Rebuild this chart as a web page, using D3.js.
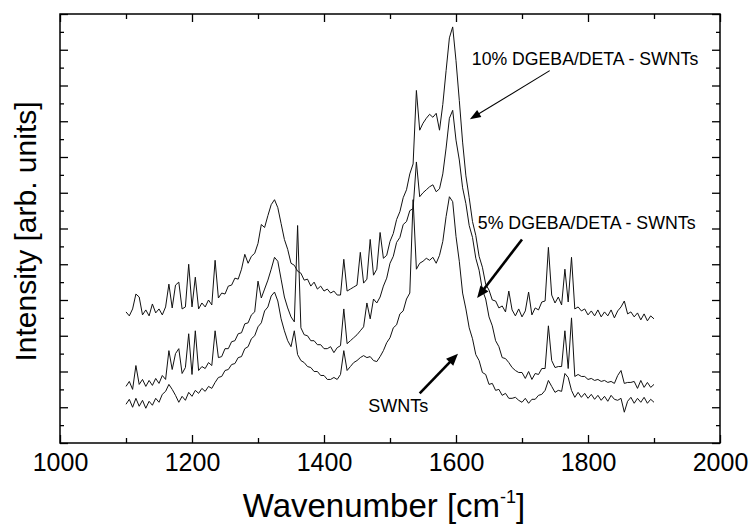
<!DOCTYPE html>
<html>
<head>
<meta charset="utf-8">
<script src="https://cdn.jsdelivr.net/npm/d3@7"></script>
<style>
  body { margin: 0; background: #fff; }
  svg { display: block; }
  text { font-family: "Liberation Sans", Arial, Helvetica, sans-serif; fill: #000; }
</style>
</head>
<body>
<svg id="chart" width="749" height="524"></svg>
<script>
// Raman spectra, sampled every 5 cm^-1 from 1100 to 1900 cm^-1
const waveStart = 1100, waveEnd = 1900, waveStep = 5;
const wavenumber = d3.range(waveStart, waveEnd + 1, waveStep);

// Intensity [arb. units], offset spectra
const dgeba10 = [
  132,128,135,150,147,129,134,128,140,131,135,129,137,160,136,159,162,135,137,180,
  137,167,135,141,137,144,139,184,146,151,150,158,159,166,165,175,190,181,188,191,
  201,220,217,229,240,245,237,221,205,195,181,179,173,171,164,165,158,162,155,158,
  153,155,151,153,149,149,185,153,155,157,159,192,161,165,205,169,175,212,186,189,
  203,211,225,233,247,255,271,281,355,315,322,327,331,328,332,315,341,375,408,419,
  385,345,303,269,247,223,209,188,177,160,154,144,143,136,138,132,153,134,128,135,
  127,133,152,129,136,134,142,143,197,149,141,147,139,175,142,187,135,137,133,135,
  129,133,128,134,127,132,128,134,126,133,137,143,130,132,127,131,124,130,123,128,
  125
];
const dgeba5 = [
  57,62,54,78,59,64,57,63,58,65,60,68,64,93,74,90,95,70,76,110,
  69,113,73,77,75,81,78,113,86,87,95,95,102,103,110,111,120,121,129,132,
  163,146,155,164,175,187,183,165,147,136,127,122,219,116,109,108,103,103,99,99,
  95,95,97,91,96,98,135,100,103,106,109,113,117,141,125,145,141,147,158,166,
  181,188,202,207,220,223,234,236,283,248,252,255,258,260,253,256,271,297,327,335,
  305,285,257,241,219,207,186,174,154,145,127,118,103,97,86,85,81,76,73,71,
  71,65,72,64,70,69,75,75,118,83,76,77,77,113,75,126,67,69,67,67,
  64,65,63,64,62,63,61,62,60,68,73,60,61,61,62,55,63,56,61,56,
  59
];
const swnt = [
  39,44,36,45,37,43,35,42,38,45,41,49,52,59,54,48,41,47,43,51,
  47,53,50,55,52,57,55,61,66,67,73,74,79,80,86,87,95,97,105,108,
  117,121,133,137,148,152,143,125,113,103,97,113,89,83,81,77,76,72,72,68,
  68,64,64,66,64,69,93,73,77,81,83,86,88,86,87,83,82,87,93,101,
  106,116,119,130,133,145,151,245,175,181,183,186,184,187,181,189,203,228,248,243,
  208,183,151,135,116,105,89,83,71,69,59,60,53,54,48,50,45,45,46,43,
  41,45,40,44,44,48,49,53,63,57,51,53,52,70,66,53,46,51,46,50,
  45,49,44,48,43,47,42,48,44,43,45,31,42,46,40,45,41,46,40,44,
  41
];

const series = [dgeba10, dgeba5, swnt];

// Axis ticks
const xMajorTicks = [1000, 1200, 1400, 1600, 1800, 2000];
const xMinorTicks = [1100, 1300, 1500, 1700, 1900];
const xTickLabels = ["1000", "1200", "1400", "1600", "1800", "2000"];
const yMajorTicks = d3.range(0, 433, 36);
const yMinorTicks = d3.range(18, 433, 36);

// Annotations: label position (wavenumber, intensity), label end, and arrows from -> to
const labels = [
  { text: "10% DGEBA/DETA - SWNTs", x: 1624, y: 381, x2: 1967 },
  { text: "5% DGEBA/DETA - SWNTs",  x: 1633, y: 216, x2: 1963 },
  { text: "SWNTs",                  x: 1467, y: 31,  x2: 1558 }
];
const arrows = [
  { from: [1742, 375], to: [1621, 326], width: 1.1, head: 11, headW: 4 },
  { from: [1700, 205], to: [1632, 146], width: 2.6, head: 12, headW: 5 },
  { from: [1545, 50],  to: [1603, 90],  width: 2.6, head: 12, headW: 5 }
];

const svg = d3.select("#chart");
const x = d3.scaleLinear().domain([1000, 2000]).range([60, 720]);
const y = d3.scaleLinear().domain([0, 432]).range([443, 14]);

const [x0, x1] = x.range();
const [yb, yt] = y.range();

// Spectra
const line = d3.line()
  .x((d, i) => x(wavenumber[i]))
  .y(d => y(d));

svg.append("g")
  .selectAll("path")
  .data(series)
  .join("path")
  .attr("d", line)
  .attr("fill", "none")
  .attr("stroke", "#111")
  .attr("stroke-width", 1)
  .attr("stroke-linejoin", "round");

// Ticks on all four sides, pointing inward
function styleAxis(g) {
  g.select(".domain").remove();
  g.selectAll(".tick line").attr("stroke", "#000").attr("stroke-width", 1.3);
  g.attr("font-family", null).attr("font-size", null);
}

svg.append("g").attr("transform", `translate(0,${yb})`)
  .call(d3.axisBottom(x).tickValues(xMajorTicks).tickSize(-8).tickPadding(10)
    .tickFormat((d, i) => xTickLabels[i]))
  .call(styleAxis)
  .selectAll("text").attr("font-size", 25);

svg.append("g").attr("transform", `translate(0,${yb})`)
  .call(d3.axisBottom(x).tickValues(xMinorTicks).tickSize(-5).tickFormat(""))
  .call(styleAxis);

svg.append("g").attr("transform", `translate(0,${yt})`)
  .call(d3.axisTop(x).tickValues(xMajorTicks).tickSize(-8).tickFormat(""))
  .call(styleAxis);

svg.append("g").attr("transform", `translate(0,${yt})`)
  .call(d3.axisTop(x).tickValues(xMinorTicks).tickSize(-5).tickFormat(""))
  .call(styleAxis);

svg.append("g").attr("transform", `translate(${x0},0)`)
  .call(d3.axisLeft(y).tickValues(yMajorTicks).tickSize(-8).tickFormat(""))
  .call(styleAxis);

svg.append("g").attr("transform", `translate(${x0},0)`)
  .call(d3.axisLeft(y).tickValues(yMinorTicks).tickSize(-4).tickFormat(""))
  .call(styleAxis);

svg.append("g").attr("transform", `translate(${x1},0)`)
  .call(d3.axisRight(y).tickValues(yMajorTicks).tickSize(-8).tickFormat(""))
  .call(styleAxis);

svg.append("g").attr("transform", `translate(${x1},0)`)
  .call(d3.axisRight(y).tickValues(yMinorTicks).tickSize(-4).tickFormat(""))
  .call(styleAxis);

// Plot frame
svg.append("rect")
  .attr("x", x0).attr("y", yt)
  .attr("width", x1 - x0).attr("height", yb - yt)
  .attr("fill", "none").attr("stroke", "#000").attr("stroke-width", 1.5);

// Axis titles
const xTitle = svg.append("text")
  .attr("x", 384).attr("y", 517)
  .attr("text-anchor", "middle")
  .attr("font-size", 33);
xTitle.append("tspan").text("Wavenumber [cm");
xTitle.append("tspan").attr("font-size", 18).attr("dy", -14).text("-1");
xTitle.append("tspan").attr("dy", 14).text("]");

svg.append("text")
  .attr("transform", `translate(36,${(yt + yb) / 2 + 3}) rotate(-90)`)
  .attr("text-anchor", "middle")
  .attr("font-size", 30)
  .text("Intensity [arb. units]");

// Curve labels
svg.append("g")
  .selectAll("text")
  .data(labels)
  .join("text")
  .attr("x", d => x(d.x))
  .attr("y", d => y(d.y))
  .attr("font-size", 19)
  .attr("textLength", d => x(d.x2) - x(d.x))
  .attr("lengthAdjust", "spacingAndGlyphs")
  .text(d => d.text);

// Arrows
const arrowG = svg.append("g");
arrows.forEach(a => {
  const sx = x(a.from[0]), sy = y(a.from[1]);
  const ex = x(a.to[0]), ey = y(a.to[1]);
  const ang = Math.atan2(ey - sy, ex - sx);
  const bx = ex - a.head * Math.cos(ang), by = ey - a.head * Math.sin(ang);
  arrowG.append("line")
    .attr("x1", sx).attr("y1", sy).attr("x2", bx + Math.cos(ang)).attr("y2", by + Math.sin(ang))
    .attr("stroke", "#000").attr("stroke-width", a.width);
  const px = -Math.sin(ang) * a.headW, py = Math.cos(ang) * a.headW;
  arrowG.append("path")
    .attr("d", `M${ex},${ey}L${bx + px},${by + py}L${bx - px},${by - py}Z`)
    .attr("fill", "#000");
});
</script>
</body>
</html>
